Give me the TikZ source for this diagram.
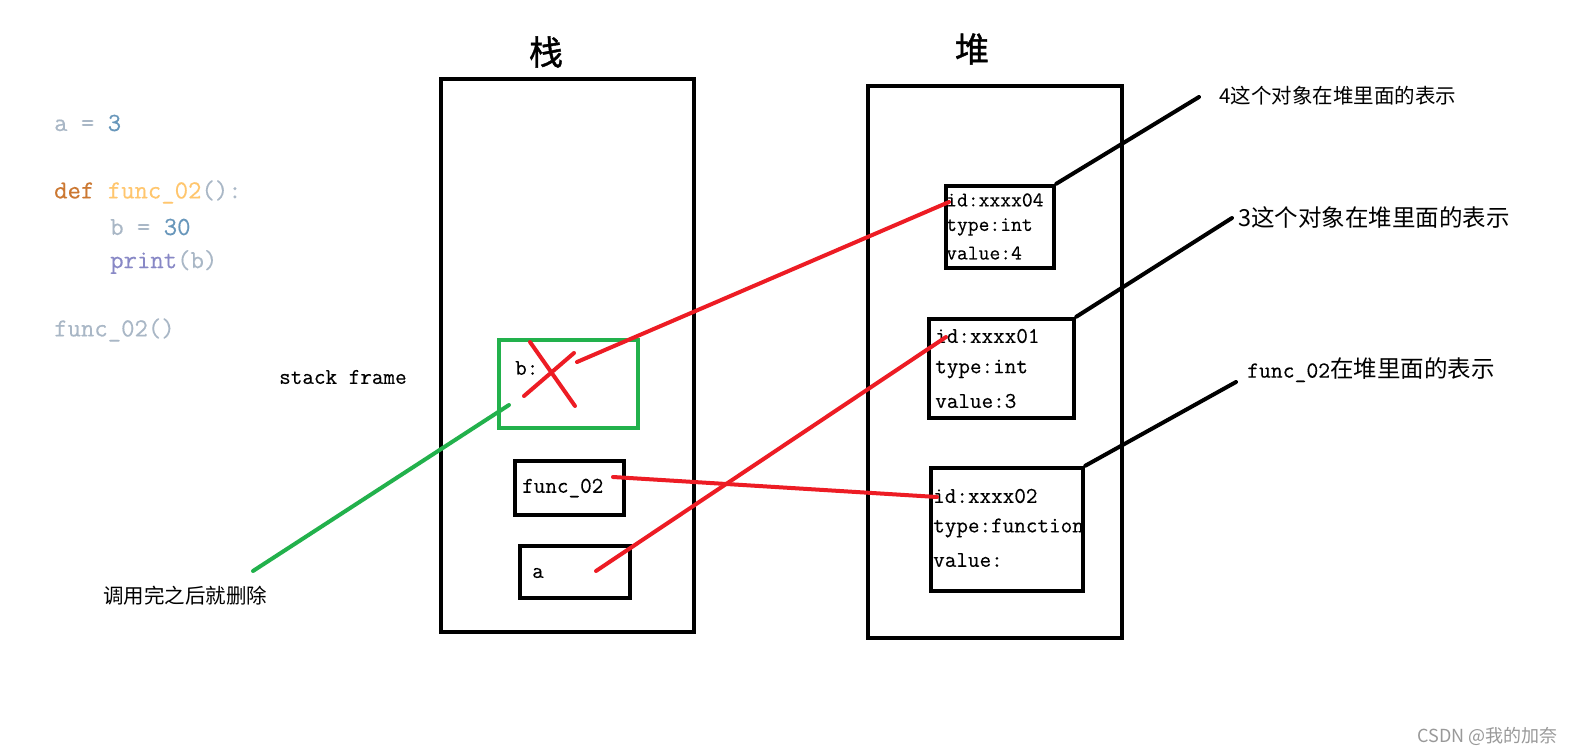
\documentclass[tikz,border=0pt]{standalone}
\usepackage{fontspec}
\newfontfamily\cjk{Noto Sans CJK SC}
\newfontfamily\cjkb{Noto Sans CJK SC}[FakeBold=1.2]
\IfFontExistsTF{Latin Modern Mono}{\newfontfamily\mytt{Latin Modern Mono}[FakeBold=0.3]}{\newcommand\mytt{\ttfamily}}
\definecolor{myred}{HTML}{ED1C24}
\definecolor{mygreen}{HTML}{22B14C}
\definecolor{cid}{HTML}{A9B7C6}
\definecolor{ckw}{HTML}{CC7832}
\definecolor{cfn}{HTML}{FFC66D}
\definecolor{cnum}{HTML}{6897BB}
\definecolor{cbi}{HTML}{8888C6}
\definecolor{wm}{HTML}{999999}
\tikzset{
  boxb/.style={draw=black, line width=4.5pt, inner sep=0pt, rectangle},
  gbox/.style={draw=mygreen, line width=4pt, inner sep=0pt, rectangle},
  redl/.style={draw=myred, line width=4pt, line cap=round},
  blkl/.style={draw=black, line width=4pt, line cap=round},
  grnl/.style={draw=mygreen, line width=4pt, line cap=round},
  txt/.style={inner sep=0pt, anchor=west, font=\fontsize{22.5}{26}\selectfont\mytt},
  stxt/.style={inner sep=0pt, anchor=west, font=\fontsize{21}{24}\selectfont\mytt},
  code/.style={inner sep=0pt, anchor=west, font=\fontsize{26}{30}\selectfont\mytt},
  lbl/.style={inner sep=0pt, anchor=west},
}
\begin{document}
\begin{tikzpicture}[x=1pt,y=-1pt]
\useasboundingbox[fill=white] (0,0) rectangle (1576,751);

% code
\node[code] (c1) at (54,123) {\textcolor{cid}{a = }\textcolor{cnum}{3}};
\node[code] (c2) at (54,192) {\textcolor{ckw}{def }\textcolor{cfn}{func\_02}\textcolor{cid}{():}};
\node[code] (c3) at (110,227) {\textcolor{cid}{b = }\textcolor{cnum}{30}};
\node[code] (c4) at (110,262) {\textcolor{cbi}{print}\textcolor{cid}{(b)}};
\node[code] (c5) at (54,330) {\textcolor{cid}{func\_02()}};

% titles
\node[inner sep=0pt, font=\cjkb\fontsize{34}{40}\selectfont] (t1) at (546,52) {栈};
\node[inner sep=0pt, font=\cjkb\fontsize{34}{40}\selectfont] (t2) at (972,49) {堆};

% big boxes
\node[boxb, minimum width=253pt, minimum height=553pt] (stack) at (567.5,355.5) {};
\node[boxb, minimum width=254pt, minimum height=552pt] (heap) at (995,362) {};

% stack frame
\node[gbox, minimum width=139pt, minimum height=88pt] (frame) at (568.5,384) {};
\node[txt] (bl) at (515,368) {b:};
\node[txt] (sf) at (279,377) {stack frame};

\node[boxb, minimum width=109pt, minimum height=54pt] (fbox) at (569.5,488) {};
\node[txt] (ft) at (522,488) {func\_02};
\node[boxb, minimum width=110pt, minimum height=52pt] (abox) at (575,572) {};
\node[txt] (at) at (532,573) {a};

% heap objects
\node[boxb, minimum width=108pt, minimum height=82pt] (h4) at (1000,227) {};
\node[stxt] (h4a) at (946,200) {id:xxxx04};
\node[stxt] (h4b) at (946,227) {type:int};
\node[stxt] (h4c) at (946,253) {value:4};

\node[boxb, minimum width=145pt, minimum height=99pt] (h1) at (1001.5,368.5) {};
\node[txt] (h1a) at (935,336) {id:xxxx01};
\node[txt] (h1b) at (935,369) {type:int};
\node[txt] (h1c) at (935,401) {value:3};

\node[boxb, minimum width=152pt, minimum height=123pt] (h2) at (1007,529.5) {};
\node[txt] (h2a) at (933,496) {id:xxxx02};
\node[txt] (h2b) at (933,528) {type:function};
\node[txt] (h2c) at (933,560) {value:};

% labels
\node[lbl, font=\cjk\fontsize{20.5}{24}\selectfont] (l4) at (1219,96) {4这个对象在堆里面的表示};
\node[lbl, font=\cjk\fontsize{23.5}{28}\selectfont] (l3) at (1238,218) {3这个对象在堆里面的表示};
\node[lbl] (l2) at (1247,370) {{\fontsize{23}{28}\selectfont\mytt func\_02}{\cjk\fontsize{23.5}{28}\selectfont 在堆里面的表示}};
\node[lbl, font=\cjk\fontsize{20.5}{24}\selectfont] (ld) at (103,596) {调用完之后就删除};
\node[inner sep=0pt, anchor=east, font=\cjk\fontsize{18}{22}\selectfont, text=wm] (wmk) at (1558,736) {CSDN @我的加奈};

% coordinates
\coordinate (x1a) at (530,342);
\coordinate (x1b) at (575,406);
\coordinate (x2a) at (524,396);
\coordinate (x2b) at (574,353);
\coordinate (bs) at (577,362);
\coordinate (b4) at (949,202);
\coordinate (fs) at (613,477);
\coordinate (f2) at (937,497);
\coordinate (as) at (596,571);
\coordinate (a1) at (946,337);
\coordinate (gs) at (509,405);
\coordinate (ge) at (253,571);
\coordinate (p4) at (1199,97);
\coordinate (p3) at (1232,218);
\coordinate (p2) at (1236,382);

% red connectors
\draw[redl] (x1a) -- (x1b);
\draw[redl] (x2a) -- (x2b);
\draw[redl] (bs) -- (b4);
\draw[redl] (fs) -- (f2);
\draw[redl] (as) -- (a1);
% green
\draw[grnl] (gs) -- (ge);
% black pointers
\draw[blkl] (h4.north east) -- (p4);
\draw[blkl] (h1.north east) -- (p3);
\draw[blkl] (h2.north east) -- (p2);
\end{tikzpicture}
\end{document}
